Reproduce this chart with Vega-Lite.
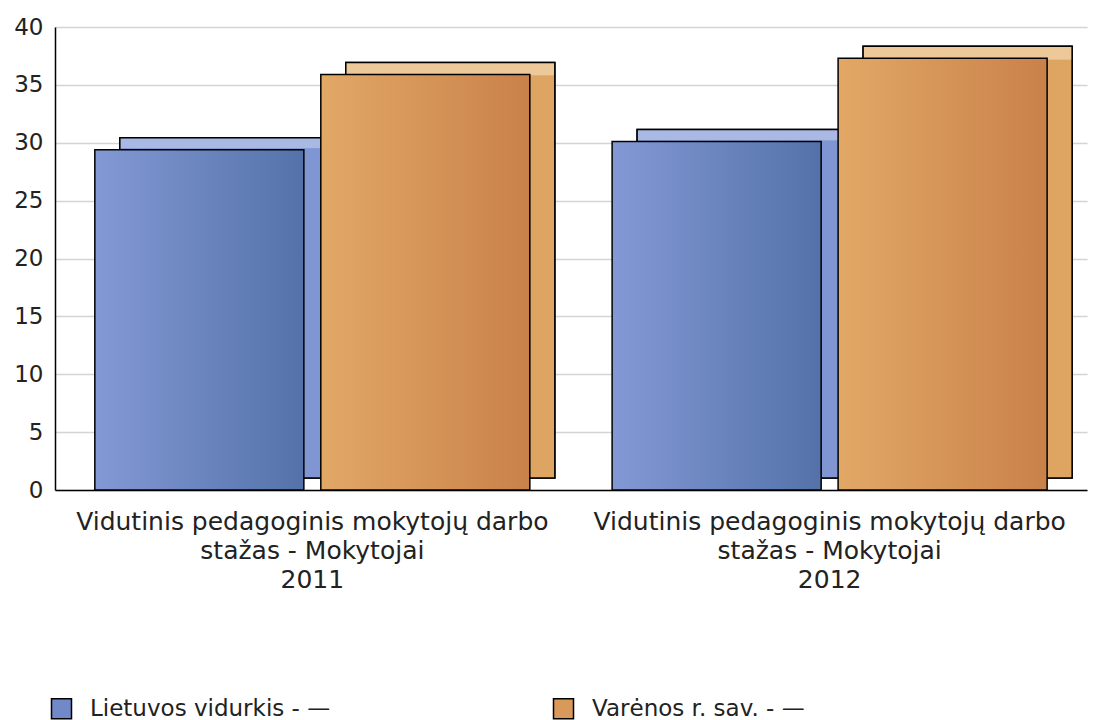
{
  "$schema": "https://vega.github.io/schema/vega-lite/v6.json",
  "autosize": {"type": "none"},
  "padding": {"left": 55, "top": 27, "right": 10, "bottom": 230},
  "width": 1032,
  "height": 463,
  "background": "white",
  "config": {
    "view": {"stroke": null},
    "font": "DejaVu Sans"
  },
  "data": {
    "values": [
      {"category": "Vidutinis pedagoginis mokytojų darbo|stažas - Mokytojai|2011", "series": "Lietuvos vidurkis - —", "value": 29.4},
      {"category": "Vidutinis pedagoginis mokytojų darbo|stažas - Mokytojai|2011", "series": "Varėnos r. sav. - —", "value": 35.9},
      {"category": "Vidutinis pedagoginis mokytojų darbo|stažas - Mokytojai|2012", "series": "Lietuvos vidurkis - —", "value": 30.1},
      {"category": "Vidutinis pedagoginis mokytojų darbo|stažas - Mokytojai|2012", "series": "Varėnos r. sav. - —", "value": 37.3}
    ]
  },
  "encoding": {
    "x": {
      "field": "category", "type": "nominal",
      "scale": {"paddingInner": 0.159, "paddingOuter": 0.077},
      "axis": {
        "title": null, "labelAngle": 0, "ticks": false,
        "domainColor": "#000000", "domainWidth": 1.5,
        "labelExpr": "split(datum.label, '|')",
        "labelFont": "DejaVu Sans",
        "labelFontSize": 25, "labelColor": "#222222",
        "labelLineHeight": 29, "labelPadding": 19, "labelLimit": 600
      }
    },
    "y": {
      "field": "value", "type": "quantitative",
      "scale": {"domain": [0, 40]},
      "axis": {
        "title": null, "values": [0, 5, 10, 15, 20, 25, 30, 35, 40],
        "ticks": false, "domainColor": "#000000", "domainWidth": 1.5,
        "gridColor": "#d4d4d4", "gridWidth": 1.5,
        "labelFont": "DejaVu Sans",
        "labelFontSize": 23, "labelColor": "#222222", "labelPadding": 12
      }
    }
  },
  "resolve": {"scale": {"xOffset": "independent"}},
  "layer": [
    {
      "layer": [
        {
          "mark": {"type": "bar", "yOffset": -12, "stroke": "#000000", "strokeWidth": 1.5},
          "encoding": {
            "color": {
              "field": "series", "type": "nominal",
              "scale": {"domain": ["Lietuvos vidurkis - —", "Varėnos r. sav. - —"], "range": ["#7189c8", "#d9995a"]},
              "legend": {
                "title": null, "orient": "none", "legendX": -5, "legendY": 670,
                "direction": "horizontal", "columns": 2, "columnPadding": 219,
                "symbolType": "square", "symbolSize": 400, "symbolStrokeColor": "#000000",
                "symbolStrokeWidth": 1.5, "symbolOpacity": 1,
                "labelFont": "DejaVu Sans",
                "labelFontSize": 23, "labelColor": "#222222", "labelOffset": 17, "labelLimit": 400
              }
            }
          }
        },
        {
          "transform": [{"filter": "datum.series === 'Lietuvos vidurkis - —'"}],
          "mark": {
            "type": "bar", "yOffset": -12, "stroke": "#000000", "strokeWidth": 1.5,
            "fill": {"gradient": "linear", "x1": 0, "y1": 0, "x2": 0, "y2": 1,
              "stops": [{"offset": 0, "color": "#aab9e3"}, {"offset": 0.03, "color": "#aab9e3"}, {"offset": 0.032, "color": "#7f96d2"}, {"offset": 1, "color": "#7f96d2"}]}
          }
        },
        {
          "transform": [{"filter": "datum.series === 'Varėnos r. sav. - —'"}],
          "mark": {
            "type": "bar", "yOffset": -12, "stroke": "#000000", "strokeWidth": 1.5,
            "fill": {"gradient": "linear", "x1": 0, "y1": 0, "x2": 0, "y2": 1,
              "stops": [{"offset": 0, "color": "#edc898"}, {"offset": 0.03, "color": "#edc898"}, {"offset": 0.032, "color": "#dea462"}, {"offset": 1, "color": "#dea462"}]}
          }
        }
      ],
      "encoding": {
        "xOffset": {
          "field": "series", "type": "nominal",
          "scale": {"paddingInner": 0.075, "paddingOuter": 0, "range": [25, 460]}
        }
      }
    },
    {
      "layer": [
        {
          "transform": [{"filter": "datum.series === 'Lietuvos vidurkis - —'"}],
          "mark": {
            "type": "bar", "stroke": "#000000", "strokeWidth": 1.5,
            "fill": {"gradient": "linear", "x1": 0, "y1": 0, "x2": 1, "y2": 0,
              "stops": [{"offset": 0, "color": "#8399d5"}, {"offset": 1, "color": "#5472a9"}]}
          }
        },
        {
          "transform": [{"filter": "datum.series === 'Varėnos r. sav. - —'"}],
          "mark": {
            "type": "bar", "stroke": "#000000", "strokeWidth": 1.5,
            "fill": {"gradient": "linear", "x1": 0, "y1": 0, "x2": 1, "y2": 0,
              "stops": [{"offset": 0, "color": "#e2a866"}, {"offset": 1, "color": "#c9814a"}]}
          }
        }
      ],
      "encoding": {
        "xOffset": {
          "field": "series", "type": "nominal",
          "scale": {"domain": ["Lietuvos vidurkis - —", "Varėnos r. sav. - —"], "paddingInner": 0.075, "paddingOuter": 0, "range": [0, 435]}
        }
      }
    }
  ]
}
